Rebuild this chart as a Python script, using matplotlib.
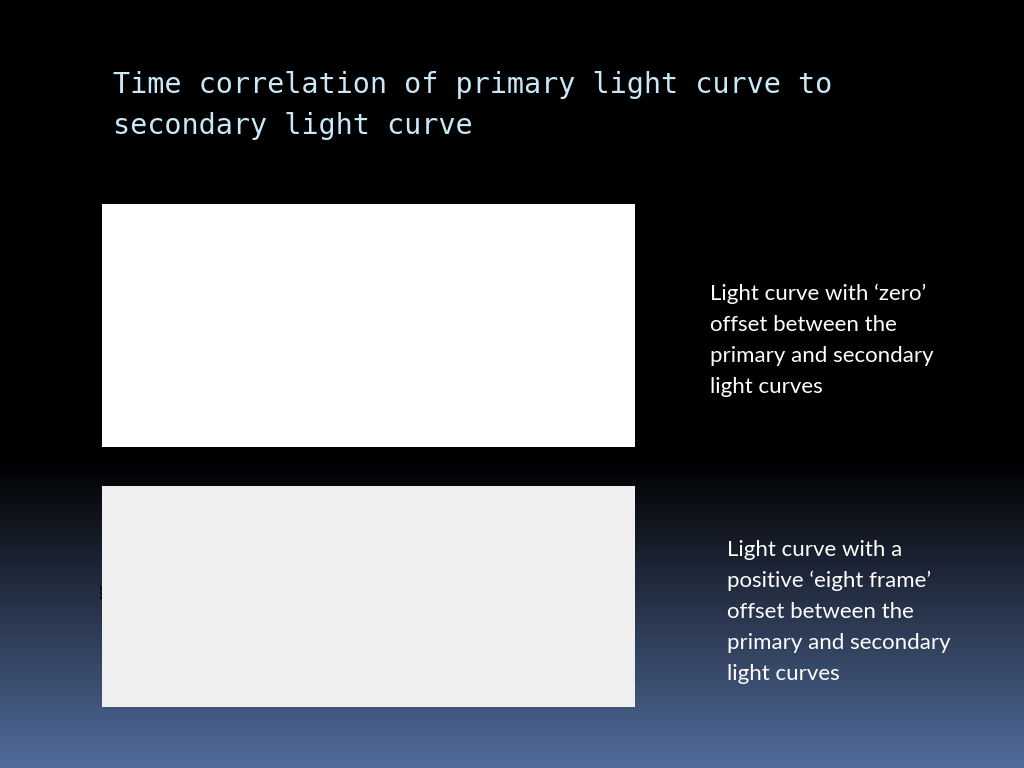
import numpy as np
import matplotlib
matplotlib.use("Agg")
import matplotlib.pyplot as plt
from matplotlib.patches import Rectangle

# ── data ───────────────────────────────────────────────────────────────────
lags_top = list(range(-27, 28))
acf_top = [0.63, 0.645, 0.66, 0.67, 0.675, 0.68, 0.68, 0.69, 0.695, 0.70,
           0.71, 0.715, 0.715, 0.72, 0.72, 0.73, 0.74, 0.76, 0.78, 0.79,
           0.795, 0.80, 0.805, 0.815, 0.84, 0.875, 0.92, 0.97, 0.925, 0.875,
           0.835, 0.815, 0.80, 0.795, 0.79, 0.79, 0.785, 0.775, 0.75, 0.74,
           0.73, 0.725, 0.725, 0.72, 0.715, 0.71, 0.705, 0.695, 0.695, 0.69,
           0.685, 0.68, 0.67, 0.66, 0.65]
ci_top = 0.055

lags_bot = list(range(-28, 29))
acf_bot = [0.120, 0.129, 0.130, 0.127, 0.112, 0.102, 0.091, 0.092, 0.085, 0.085,
           0.081, 0.086, 0.092, 0.100, 0.110, 0.117, 0.123, 0.135, 0.137, 0.137,
           0.140, 0.140, 0.144, 0.148, 0.148, 0.146, 0.130, 0.118, 0.134, 0.139,
           0.150, 0.158, 0.148, 0.153, 0.162, 0.167, 0.175, 0.173, 0.153, 0.134,
           0.114, 0.118, 0.132, 0.147, 0.153, 0.145, 0.132, 0.112, 0.110, 0.111,
           0.107, 0.109, 0.104, 0.107, 0.105, 0.099, 0.095]
ci_bot = 0.055
marks_bot = [(0, 0.100, "#7fdc7f"), (8, 0.150, "#e05060")]

title_lines = ["Time correlation of primary light curve to", "secondary light curve"]
note_top = ["Light curve with \u2018zero\u2019", "offset between the",
            "primary and secondary", "light curves"]
note_bot = ["Light curve with a", "positive \u2018eight frame\u2019",
            "offset between the", "primary and secondary", "light curves"]

W, H = 1024, 768
fig = plt.figure(figsize=(W / 100, H / 100), dpi=100)

# ── slide background: black fading to slate blue ──────────────────────────
bg = fig.add_axes([0, 0, 1, 1])
rows = np.arange(H) / H
t = np.clip((rows - 0.6) / 0.4, 0, 1)
top_c = np.array([0.0, 0.0, 0.0])
bot_c = np.array([82, 108, 155]) / 255
grad = top_c[None, :] * (1 - t[:, None]) + bot_c[None, :] * t[:, None]
bg.imshow(grad[:, None, :], aspect="auto", extent=[0, 1, 1, 0])
bg.set_xlim(0, 1)
bg.set_ylim(1, 0)
bg.axis("off")


def px(x, y):
    return x / W, 1 - y / H


# ── panels ────────────────────────────────────────────────────────────────
fig.patches.append(Rectangle(px(102, 447), 533 / W, 243 / H, transform=fig.transFigure,
                             facecolor="white", edgecolor="none", zorder=1))
fig.patches.append(Rectangle(px(102, 707), 533 / W, 221 / H, transform=fig.transFigure,
                             facecolor="#efefef", edgecolor="none", zorder=1))

# ── top ACF ───────────────────────────────────────────────────────────────
ax1 = fig.add_axes([140 / W, 1 - 397 / H, 458 / W, 154 / H])
ax1.set_facecolor("white")
ax1.vlines(lags_top, 0, acf_top, color="#333333", lw=1.0)
ax1.axhline(0, color="#666666", lw=1.2)
for c in (ci_top, -ci_top):
    ax1.axhline(c, color="#5555cc", lw=0.8, ls=(0, (3, 2)))
ax1.set_xlim(-29.2, 29.2)
ax1.set_ylim(-0.12, 1.03)
ax1.set_xticks([-20, -10, 0, 10, 20])
ax1.set_yticks([0.0, 0.2, 0.4, 0.6, 0.8, 1.0])
ax1.set_yticklabels(["0.0", "0.2", "0.4", "0.6", "0.8", "1.0"], rotation=90, va="center")
ax1.tick_params(labelsize=6, colors="#444444", length=3)
ax1.set_xlabel("Lag", fontsize=6.5, color="#444444")
ax1.set_ylabel("ACF", fontsize=6.5, color="#444444")
ax1.set_title("Time correlation between primary and secondary data",
              fontsize=7, fontweight="bold", pad=14)
for s in ax1.spines.values():
    s.set_color("#666666")

# ── bottom ACF ────────────────────────────────────────────────────────────
ax2 = fig.add_axes([131 / W, 1 - 669 / H, 472 / W, 155 / H])
ax2.set_facecolor("#efefef")
ax2.vlines(lags_bot, 0, acf_bot, color="#555555", lw=1.2)
ax2.axhline(0, color="#444444", lw=1.0)
for c in (ci_bot, -ci_bot):
    ax2.axhline(c, color="#6666dd", lw=0.8, ls=(0, (2, 2)))
for x, y, col in marks_bot:
    ax2.plot(x, y, "o", ms=3, color=col)
ax2.set_xlim(-29.4, 29.4)
ax2.set_ylim(-0.061, 0.184)
ax2.set_xticks([-30, -20, -10, 0, 10, 20, 30])
ax2.set_yticks([-0.05, 0.0, 0.05, 0.10, 0.15])
ax2.set_yticklabels(["-0.05", "0.00", "0.05", "0.10", "0.15"], rotation=90, va="center")
ax2.tick_params(labelsize=5, length=3)
for lab in ax2.get_xticklabels() + ax2.get_yticklabels():
    lab.set_fontweight("bold")
ax2.set_xlabel("Lag", fontsize=5.5, fontweight="bold")
ax2.set_ylabel("ACF", fontsize=5.5, fontweight="bold")
ax2.set_title("primary & secondary", fontsize=6, fontweight="bold", pad=10)
for s in ax2.spines.values():
    s.set_color("#777777")
    s.set_linewidth(1.5)

# ── slide text ────────────────────────────────────────────────────────────
for i, line in enumerate(title_lines):
    fig.text(113 / W, 1 - (85 + 41 * i) / H, line, family="DejaVu Sans Mono",
             fontsize=20.5, color="#c9e8f8", va="center", ha="left")
for i, line in enumerate(note_top):
    fig.text(710 / W, 1 - (294 + 31 * i) / H, line, family="Lato",
             fontsize=16, color="white", va="center", ha="left")
for i, line in enumerate(note_bot):
    fig.text(727 / W, 1 - (550 + 31 * i) / H, line, family="Lato",
             fontsize=16, color="white", va="center", ha="left")

fig.savefig("out.png", dpi=100)
